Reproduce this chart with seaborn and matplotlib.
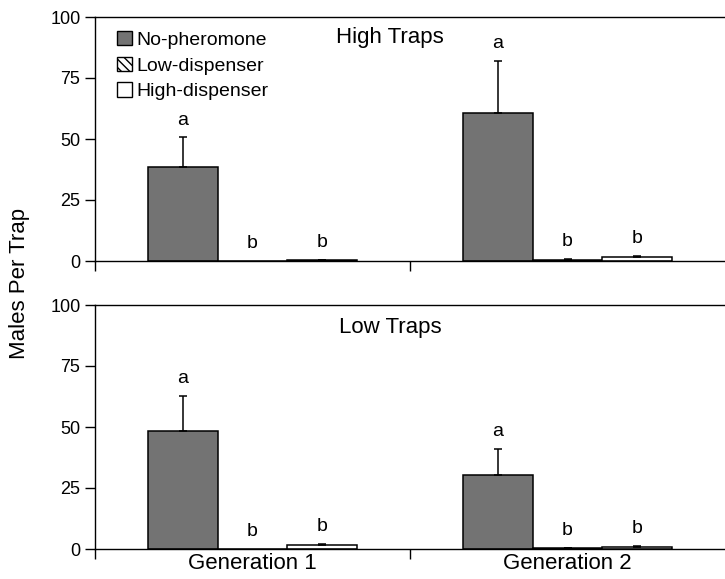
import matplotlib
matplotlib.use("Agg")
import matplotlib.pyplot as plt
import seaborn as sns
import pandas as pd
import numpy as np
from matplotlib.patches import Patch

generations = ["Generation 1", "Generation 2"]
treatments = ["No-pheromone", "Low-dispenser", "High-dispenser"]

# High traps
high_no = [38.6, 60.8]
high_low = [0.0, 0.4]
high_high = [0.4, 1.6]
high_no_se = [12.1, 21.3]
high_low_se = [0.0, 0.4]
high_high_se = [0.2, 0.6]
high_letters = [["a", "a"], ["b", "b"], ["b", "b"]]

# Low traps
low_no = [48.5, 30.3]
low_low = [0.0, 0.3]
low_high = [1.6, 0.8]
low_no_se = [14.3, 10.6]
low_low_se = [0.0, 0.3]
low_high_se = [0.6, 0.5]
low_letters = [["a", "a"], ["b", "b"], ["b", "b"]]

y_ticks = [0, 25, 50, 75, 100]

sns.set_theme(style="ticks")
plt.rcParams["font.family"] = ["Liberation Sans", "DejaVu Sans"]
plt.rcParams["text.color"] = "black"
plt.rcParams["xtick.labelcolor"] = "black"
plt.rcParams["ytick.labelcolor"] = "black"
plt.rcParams["xtick.color"] = "black"
plt.rcParams["ytick.color"] = "black"

fig = plt.figure(figsize=(7.25, 5.79), dpi=100)
ax_top = fig.add_axes([95 / 725, 1 - 261 / 579, 1 - 95 / 725, (261 - 17) / 579])
ax_bot = fig.add_axes([95 / 725, 1 - 549 / 579, 1 - 95 / 725, (549 - 305) / 579])

palette = {"No-pheromone": "#737373", "Low-dispenser": "white", "High-dispenser": "white"}


def draw(ax, means, ses, letters, title, title_y):
    rows = []
    for t, m in zip(treatments, means):
        for g, v in zip(generations, m):
            rows.append({"Generation": g, "Treatment": t, "Males": v})
    df = pd.DataFrame(rows)
    sns.barplot(data=df, x="Generation", y="Males", hue="Treatment",
                hue_order=treatments, order=generations, palette=palette,
                width=0.665, errorbar=None, edgecolor="black", linewidth=1.1,
                saturation=1, legend=False, ax=ax)
    for ci, (cont, se, lets, m) in enumerate(zip(ax.containers, ses, letters, means)):
        for bi, bar in enumerate(cont.patches):
            if treatments[ci] == "Low-dispenser":
                bar.set_hatch("\\\\\\\\")
            xc = bar.get_x() + bar.get_width() / 2
            h = m[bi]
            e = se[bi]
            if e > 0:
                ax.errorbar(xc, h, yerr=[[0], [e]], fmt="none", ecolor="black",
                            elinewidth=1.1, capsize=3, capthick=1.1, zorder=3)
            ax.text(xc, h + e + 3.6, lets[bi], ha="center", va="bottom",
                    fontsize=14, color="black")
    ax.set_xlim(-0.5, 1.5)
    ax.set_ylim(0, 100)
    ax.set_yticks(y_ticks)
    ax.set_yticklabels([str(v) for v in y_ticks], fontsize=13)
    ax.set_xticks([-0.5, 0.5])
    ax.set_xticklabels([])
    ax.tick_params(axis="both", direction="out", length=7, width=1, color="black")
    ax.set_xlabel("")
    ax.set_ylabel("")
    for s in ["left", "top", "bottom"]:
        ax.spines[s].set_visible(True)
        ax.spines[s].set_linewidth(1.0)
        ax.spines[s].set_color("black")
    ax.spines["right"].set_visible(False)
    ax.text((390 - 95) / 630, title_y, title, transform=ax.transAxes,
            ha="center", va="center", fontsize=16)


draw(ax_top, [high_no, high_low, high_high],
     [high_no_se, high_low_se, high_high_se], high_letters, "High Traps",
     (261 - 38) / 244)
draw(ax_bot, [low_no, low_low, low_high],
     [low_no_se, low_low_se, low_high_se], low_letters, "Low Traps",
     (549 - 328) / 244)

# generation labels on bottom axes
ax_bot.set_xticks([0, 1], minor=True)
ax_bot.set_xticklabels(generations, minor=True, fontsize=16)
ax_bot.tick_params(axis="x", which="minor", length=0, pad=3)

handles = [Patch(facecolor=palette[t], edgecolor="black", linewidth=1.0,
                 hatch=("\\\\\\\\" if t == "Low-dispenser" else None), label=t)
           for t in treatments]
ax_top.legend(handles=handles, loc="upper left",
              bbox_to_anchor=(22 / 630, 1 - 14 / 244), frameon=False,
              fontsize=14, handlelength=0.75, handleheight=0.75,
              handletextpad=0.25, labelspacing=0.4, borderaxespad=0, borderpad=0)

fig.text(20 / 725, 1 - 283 / 579, "Males Per Trap", rotation=90,
         ha="center", va="center", fontsize=16)

fig.savefig("out.png", dpi=100)
